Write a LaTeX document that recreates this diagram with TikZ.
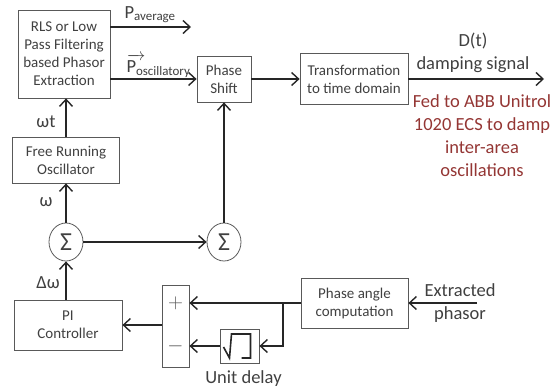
\documentclass[tikz,border=0pt]{standalone}
\usepackage{amsmath}
\usepackage{fontspec}
\setmainfont{Carlito}
\usetikzlibrary{arrows.meta,positioning,shapes.geometric}
\definecolor{ddline}{HTML}{262626}
\definecolor{ddbox}{HTML}{595959}
\definecolor{ddtext}{HTML}{404040}
\definecolor{ddred}{HTML}{943634}

\begin{document}
\begin{tikzpicture}[
  x=1pt, y=-1pt,
  font=\fontsize{15}{18}\selectfont, text=ddtext,
  blk/.style={draw=ddbox, line width=0.8pt, align=center, inner sep=2pt},
  sumnode/.style={ellipse, draw=ddbox, line width=0.8pt, minimum width=34pt,
                  minimum height=38pt, inner sep=0pt, font=\fontsize{26}{26}\selectfont},
  lbl/.style={font=\fontsize{18.5}{23}\selectfont, align=center},
  sign/.style={font=\fontsize{22}{22}\selectfont, text=ddbox, inner sep=0pt},
  arr/.style={-{Straight Barb[length=7pt,width=13pt,line width=1.4pt]}, ddline, line width=1.6pt}
]
\useasboundingbox (0,0) rectangle (560,389);

% processing blocks
\node[blk, minimum width=92pt, minimum height=88pt] (rls) at (64,54)
  {RLS or Low\\Pass Filtering\\based Phasor\\Extraction};
\node[blk, minimum width=54pt, minimum height=46pt] (shift) at (224,79) {Phase\\Shift};
\node[blk, minimum width=108pt, minimum height=51pt] (trans) at (354,79)
  {Transformation\\to time domain};
\node[blk, minimum width=107pt, minimum height=46pt] (osc) at (66,160)
  {Free Running\\Oscillator};
\node[sumnode] (sumw) at (66,242) {Σ};
\node[sumnode] (sumph) at (224,242) {Σ};
\node[blk, minimum width=108pt, minimum height=50pt] (pi) at (68,325) {PI\\Controller};
\node[draw=ddbox, line width=0.8pt, minimum width=27pt, minimum height=82pt] (cmp) at (175.5,326) {};
\node[blk, minimum width=107pt, minimum height=50pt] (angle) at (354.5,303)
  {Phase angle\\computation};
\node[blk, minimum width=39pt, minimum height=34pt] (delay) at (239.5,346) {};

% signs of the comparator
\node[sign] (plus) at (cmp |- angle) {$+$};
\node[sign] (minus) at (cmp |- delay) {$-$};

% unit delay icon
\draw[ddline, line width=1.6pt] (delay.center) ++(-16,1) -- ++(6,11) -- ++(2,-24)
  -- ++(19,0) -- ++(0,24) -- ++(-9,0);

% free ends
\coordinate (avgend) at (191,27);
\coordinate (dout) at (544,79);
\coordinate (extin) at (477,303);
\coordinate (tap) at (283,303);

\draw[arr] (rls.east |- avgend) -- (avgend);
\draw[arr] (rls.east |- shift.west) -- (shift.west);
\draw[arr] (shift.east) -- (trans.west);
\draw[arr] (trans.east) -- (dout);
\draw[arr] (osc.north -| sumw) -- (sumw |- rls.south);
\draw[arr] (sumw.north) -- (sumw |- osc.south);
\draw[arr] (pi.north -| sumw) -- (sumw.south);
\draw[arr] (sumw.east) -- (sumph.west);
\draw[arr] (sumph.north) -- (shift.south);
\draw[arr] (cmp.west |- pi.east) -- (pi.east);
\draw[arr] (extin) -- (angle.east);
\draw[arr] (angle.west) -- (cmp.east |- angle.west);
\draw[arr] (tap) |- (delay.east);
\draw[arr] (delay.west) -- (cmp.east |- delay.west);

% labels
\node[lbl, anchor=base west] (avglbl) at (121,18) {P\textsubscript{average}};
\node[lbl, anchor=base west] (osclbl) at (123,72)
  {\rlap{$\overrightarrow{\phantom{\text{Po}}}$}P\textsubscript{oscillatory}};
\node[lbl] (dlbl) at (473,53) {D(t)\\damping signal};
\node[lbl, text=ddred] (fedlbl) at (482,136)
  {Fed to ABB Unitrol\\1020 ECS to damp\\inter-area\\oscillations};
\node[lbl] (extlbl) at (460,303) {Extracted\\phasor};
\node[lbl] (dellbl) at (243.5,379) {Unit delay};
\node[lbl] (wtlbl) at (46,122) {ωt};
\node[lbl] (wlbl) at (46,202) {ω};
\node[lbl] (dwlbl) at (48,283) {Δω};

\end{tikzpicture}
\end{document}
